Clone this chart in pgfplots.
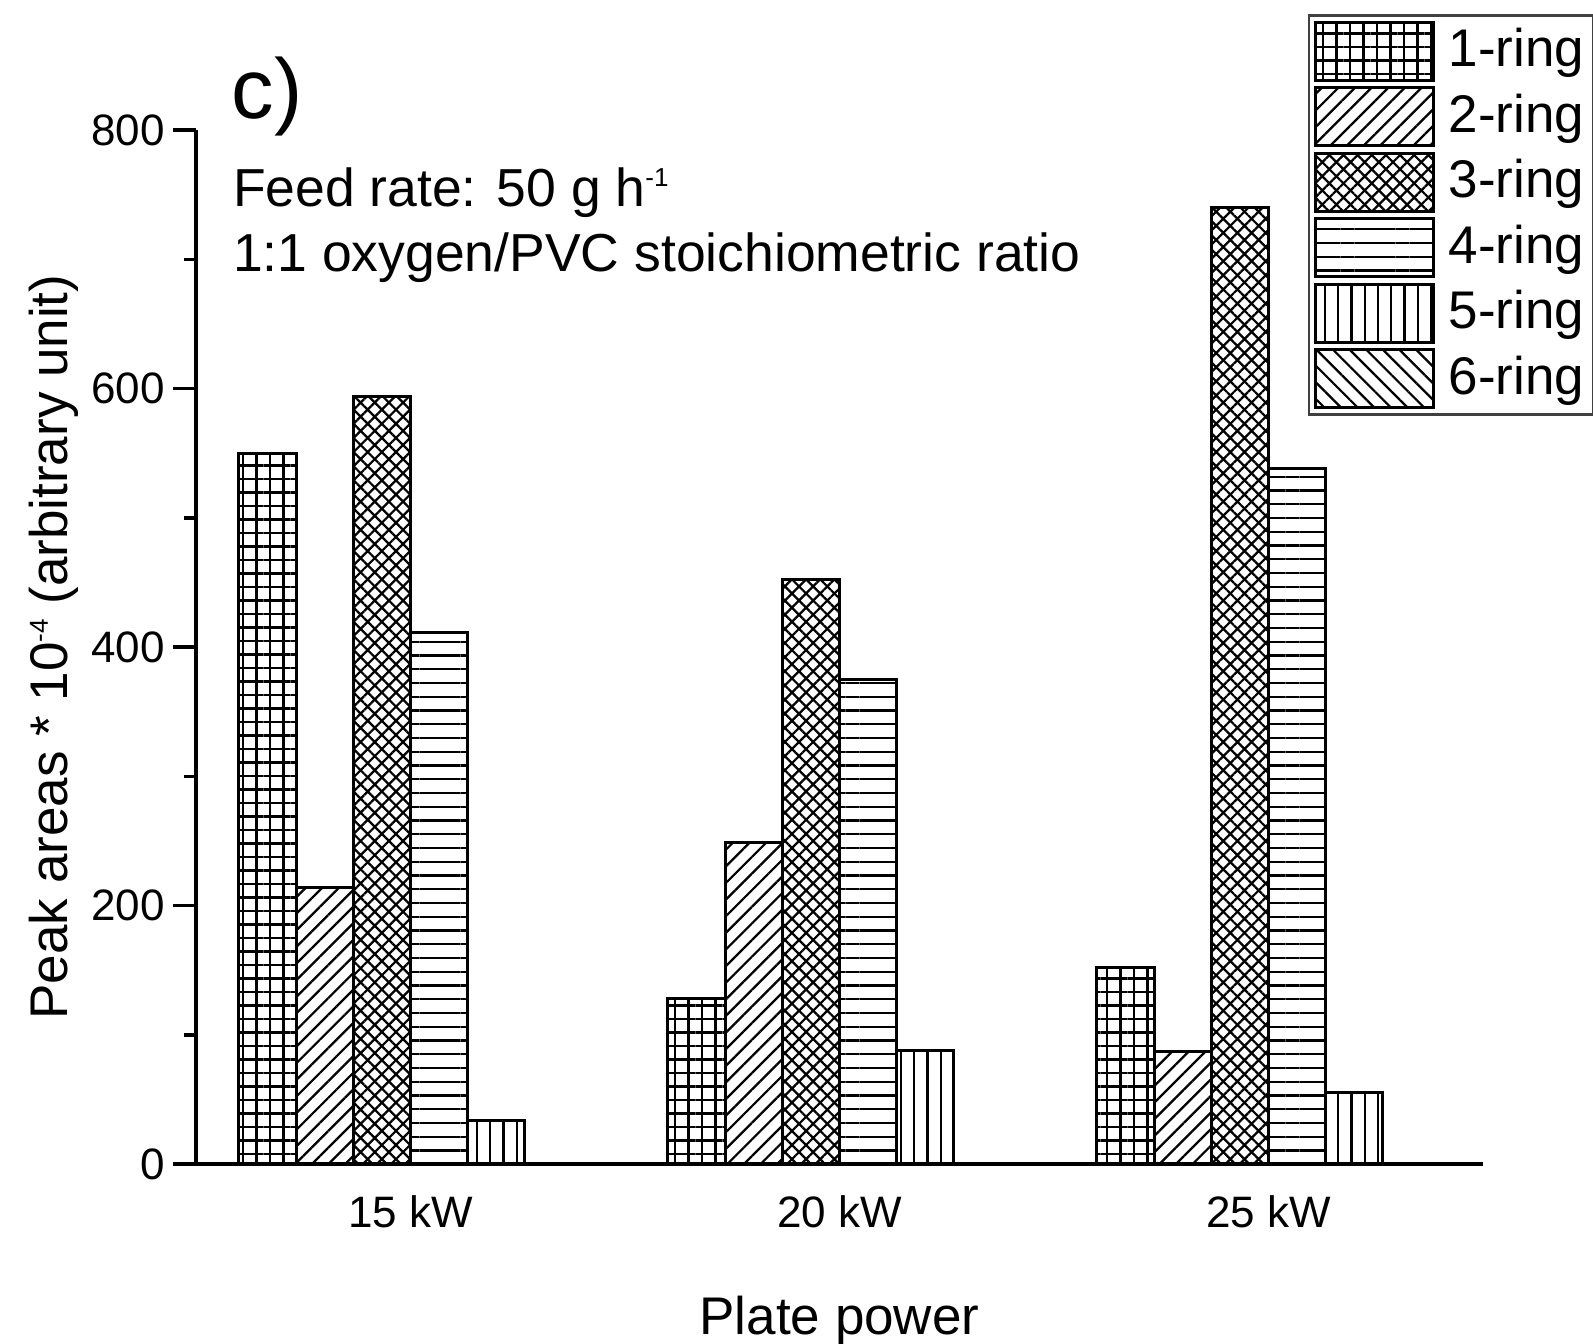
\documentclass[border=0pt]{standalone}
\usepackage{fontspec}
\setmainfont{Liberation Sans}
\usepackage{pgfplots}
\usepackage{pgfplotstable}
\pgfplotsset{compat=1.18}
\usetikzlibrary{patterns.meta}

% small raised exponent, as in "h^-1"
\newcommand{\sups}[1]{\raisebox{4pt}{\fontsize{5.2}{6}\selectfont #1}}

% peak areas (x 10^-4) per ring count, one row per plate power
\pgfplotstableread{
power r1 r2 r3 r4 r5 r6
1 550 214 594 411 34 0
2 128 249 452 375 88 0
3 152 87 740 538 55 0
}\datatable

\pgfplotsset{
  ringleg/.style={legend image code/.code={%
    \draw[##1,line width=0.6pt] (0pt,-5.8pt) rectangle (23.6pt,5.8pt);}},
  ringbar/.style={draw=black, line width=0.6pt, ringleg},
}

\begin{document}
\begin{tikzpicture}
\begin{axis}[
  name=ax,
  at={(0pt,0pt)}, anchor=south west,
  scale only axis, width=257.4pt, height=206.8pt,
  xmin=0.5, xmax=3.5, ymin=0, ymax=800,
  clip=false,
  axis lines*=left,
  axis line style={line width=0.7pt, -},
  ybar=0pt, bar width=0.13333,
  xtick={1,2,3}, xticklabels={15 kW,20 kW,25 kW},
  ytick={0,200,...,800}, minor ytick={100,300,500,700},
  tick align=outside,
  xtick style={draw=none},
  every tick/.style={black, line width=0.7pt},
  major tick length=4.6pt, minor tick length=2.4pt,
  /pgf/number format/assume math mode=true,
  yticklabel style={font=\fontsize{8.8}{10}\selectfont, anchor=east, inner sep=0pt, xshift=-1.5pt},
  xticklabel style={font=\fontsize{8.8}{10}\selectfont, anchor=base, inner sep=0pt, yshift=-8.1pt},
  every axis x label/.style={at={(axis description cs:0.5,-0.1644)}, anchor=base,
    font=\fontsize{10.6}{12}\selectfont},
  every axis y label/.style={at={(axis description cs:-0.0995,0.5)}, anchor=base, rotate=90,
    font=\fontsize{10.6}{12}\selectfont},
  xlabel={Plate power},
  ylabel={Peak areas * 10\sups{-4} (arbitrary unit)},
  legend cell align=left,
  legend style={at={(axis description cs:0.864,1.112)}, anchor=north west,
    draw=black!75, line width=0.5pt, inner sep=1.05pt,
    row sep=0.9pt, column sep=1.9pt,
    font=\fontsize{10.6}{12}\selectfont,
    nodes={inner sep=0.75pt}},
]
\addplot[ringbar, bar shift=-0.33333,
  pattern={Hatch[angle=0,distance=2.7pt,line width=0.45pt]}]
  table[x=power,y=r1]{\datatable};
\addplot[ringbar, bar shift=-0.2,
  pattern={Lines[angle=45,distance=2.35pt,line width=0.45pt]}]
  table[x=power,y=r2]{\datatable};
\addplot[ringbar, bar shift=-0.06667,
  pattern={Hatch[angle=45,distance=2.0pt,line width=0.45pt]}]
  table[x=power,y=r3]{\datatable};
\addplot[ringbar, bar shift=0.06667,
  pattern={Lines[angle=0,distance=2.75pt,line width=0.45pt]}]
  table[x=power,y=r4]{\datatable};
\addplot[ringbar, bar shift=0.2,
  pattern={Lines[angle=90,distance=2.65pt,line width=0.45pt]}]
  table[x=power,y=r5]{\datatable};
\addplot[ringbar, bar shift=0.33333,
  pattern={Lines[angle=-45,distance=2.35pt,line width=0.45pt]}]
  table[x=power,y=r6]{\datatable};
\legend{1-ring,2-ring,3-ring,4-ring,5-ring,6-ring}

\node[anchor=base west, inner sep=0pt, font=\fontsize{17}{20}\selectfont]
  at (axis description cs:0.027,1.0116) {c)};
\node[anchor=base west, inner sep=0pt, font=\fontsize{10.7}{12}\selectfont]
  at (axis description cs:0.028,0.9265) {Feed rate: 50 g h\sups{-1}};
\node[anchor=base west, inner sep=0pt, font=\fontsize{10.7}{12}\selectfont]
  at (axis description cs:0.028,0.8636) {1:1 oxygen/PVC stoichiometric ratio};
\end{axis}
\pgfresetboundingbox
\path[use as bounding box] ([shift={(-39.2pt,-35.8pt)}]ax.south west) rectangle ++(318.6pt,268.6pt);
\end{tikzpicture}
\end{document}
